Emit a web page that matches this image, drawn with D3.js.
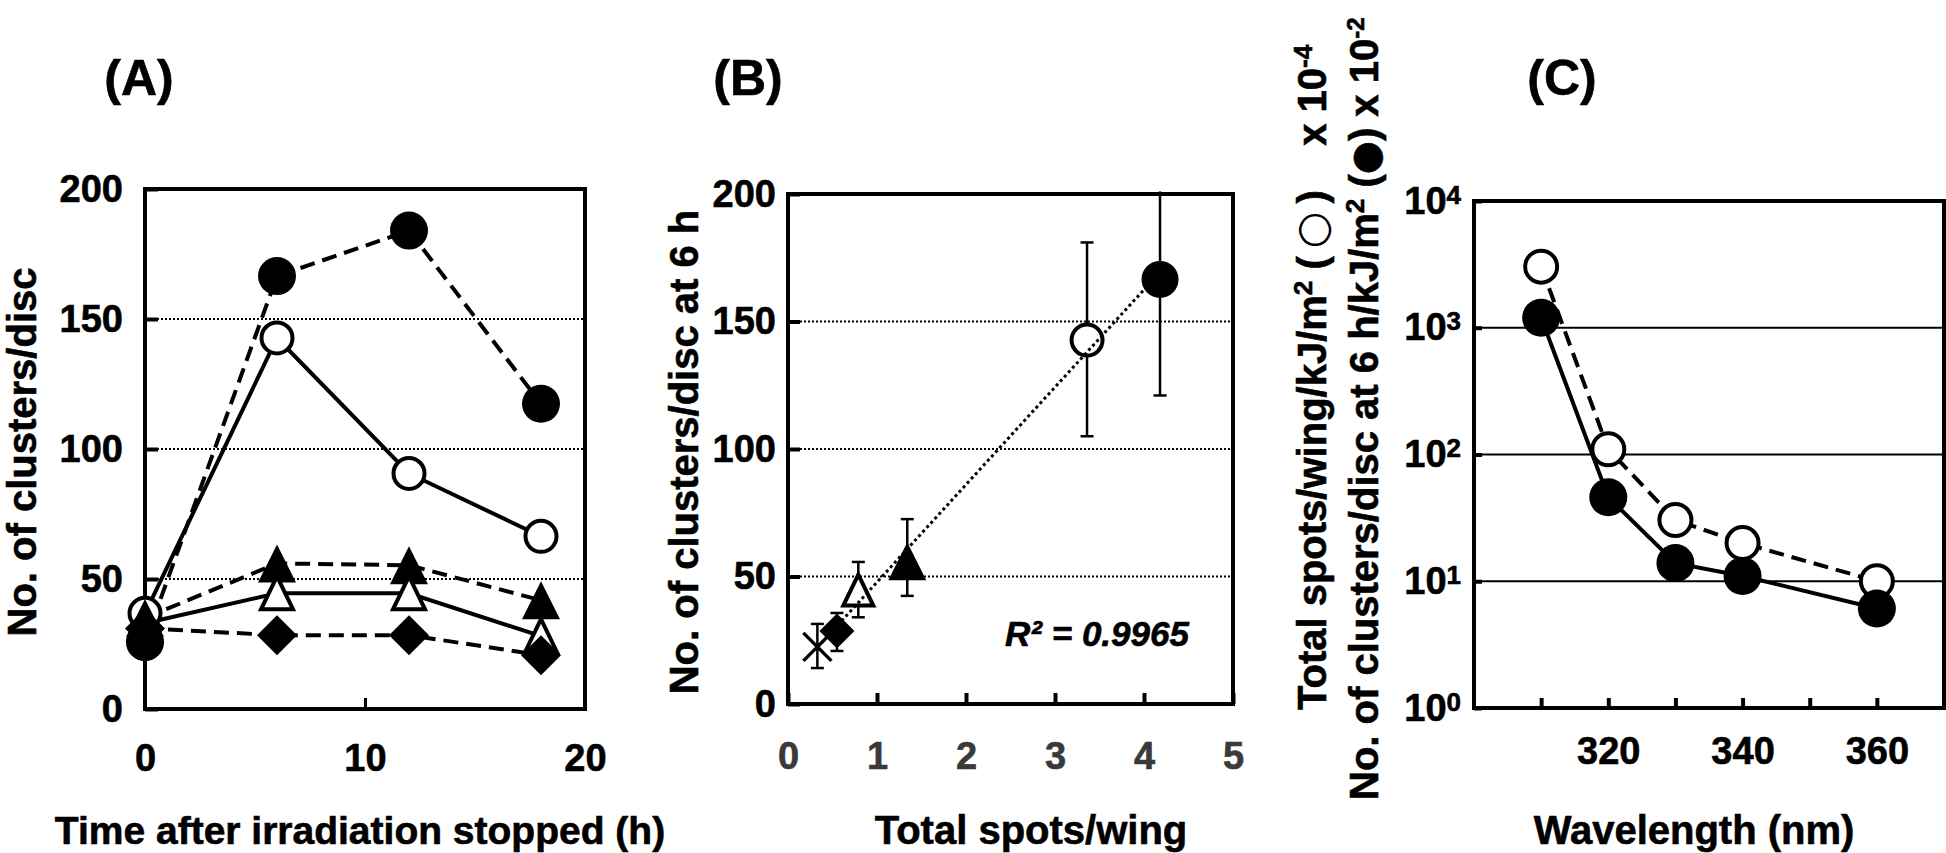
<!DOCTYPE html>
<html><head><meta charset="utf-8">
<script src="https://cdn.jsdelivr.net/npm/d3@7"></script>
<style>
body{margin:0;background:#fff}
svg{display:block}
text{font-family:"Liberation Sans",Arial,sans-serif;font-weight:bold;fill:#000;stroke:#000;stroke-width:0.6px}
</style>
</head><body>
<svg id="c" width="1946" height="853"></svg>
<script>
// ---------- Panel A data ----------
const timesA = [0, 6, 12, 18];
const filledCircleA = [25.7, 166.5, 184, 117.4];
const openCircleA = [36.8, 142.7, 90.6, 66.4];
const filledTriangleA = [35, 56, 55.3, 41.8];
const openTriangleA = [33, 44.5, 44.5, 28];
const filledDiamondA = [31, 28.4, 28.4, 20.7];
const yTicksA = [0, 50, 100, 150, 200];
const xTicksA = [0, 10, 20];
const gridA = [50, 100, 150];

// ---------- Panel B data ----------
const markersB = ["cross", "diamond", "openTriangle", "filledTriangle", "openCircle", "filledCircle"];
const spotsB = [0.33, 0.55, 0.79, 1.34, 3.36, 4.18];
const clustersB = [22.4, 28.6, 44.5, 56, 142.7, 166.5];
const errHighB = [31.4, 35.7, 55.7, 72.5, 181, 201];
const errLowB = [14.1, 20.8, 34, 42.4, 105, 121];
const yTicksB = [0, 50, 100, 150, 200];
const xTicksB = [0, 1, 2, 3, 4, 5];
const gridB = [50, 100, 150];
const r2Label = "R\u00b2 = 0.9965";

// ---------- Panel C data ----------
const wavelengthC = [310, 320, 330, 340, 360];
const spotsPerDoseC = [3035, 110, 30.4, 20, 10];      // open circles (x10^-4)
const clustersPerDoseC = [1200, 46, 13.9, 11, 6.1];   // filled circles (x10^-2)
const yTicksC = [1, 10, 100, 1000, 10000];
const xTicksC = [310, 320, 330, 340, 350, 360];
const xLabelsC = [320, 340, 360];
const gridC = [10, 100, 1000];

const svg = d3.select("#c");
const FONT = 38;

function marker(g, type, x, y, s) {
  const h = s / 2;
  if (type === "filledCircle") {
    g.append("circle").attr("cx", x).attr("cy", y).attr("r", h).attr("fill", "#000");
  } else if (type === "openCircle") {
    g.append("circle").attr("cx", x).attr("cy", y).attr("r", h - 2)
      .attr("fill", "#fff").attr("stroke", "#000").attr("stroke-width", 4);
  } else if (type === "filledTriangle") {
    g.append("path").attr("d", `M${x},${y - h}L${x + h},${y + h}L${x - h},${y + h}Z`).attr("fill", "#000");
  } else if (type === "openTriangle") {
    const k = h - 3;
    g.append("path").attr("d", `M${x},${y - k - 1}L${x + k},${y + k}L${x - k},${y + k}Z`)
      .attr("fill", "#fff").attr("stroke", "#000").attr("stroke-width", 4);
  } else if (type === "diamond") {
    g.append("path").attr("d", `M${x},${y - h}L${x + h},${y}L${x},${y + h}L${x - h},${y}Z`).attr("fill", "#000");
  } else if (type === "cross") {
    g.append("path").attr("d", `M${x - h},${y - h}L${x + h},${y + h}M${x + h},${y - h}L${x - h},${y + h}`)
      .attr("stroke", "#000").attr("stroke-width", 3.5).attr("fill", "none");
  }
}

function styleAxis(g, size, color) {
  g.attr("font-family", null).attr("font-size", null);
  g.select(".domain").remove();
  g.selectAll("text").attr("font-size", size).style("fill", color || "#000").style("stroke", color || "#000");
}

function frame(x0, x1, y0, y1) {
  svg.append("rect").attr("x", x0).attr("y", y0).attr("width", x1 - x0).attr("height", y1 - y0)
    .attr("fill", "none").attr("stroke", "#000").attr("stroke-width", 4);
}

// ================= Panel A =================
{
  const x = d3.scaleLinear().domain([0, 20]).range([145, 585]);
  const y = d3.scaleLinear().domain([0, 200]).range([709, 189]);
  svg.append("g").selectAll("line").data(gridA).join("line")
    .attr("x1", 145).attr("x2", 585).attr("y1", d => y(d)).attr("y2", d => y(d))
    .attr("stroke", "#000").attr("stroke-width", 2).attr("stroke-dasharray", "2,2");
  const gy = svg.append("g").attr("transform", "translate(145,0)")
    .call(d3.axisLeft(y).tickValues(yTicksA).tickFormat(d3.format("d")).tickSizeInner(-13).tickSizeOuter(0).tickPadding(22));
  styleAxis(gy, FONT); gy.selectAll("line").attr("stroke-width", 4);
  const gx = svg.append("g").attr("transform", "translate(0,709)")
    .call(d3.axisBottom(x).tickValues(xTicksA).tickFormat(d3.format("d")).tickSizeInner(-11).tickSizeOuter(0).tickPadding(35));
  styleAxis(gx, FONT); gx.selectAll("line").attr("stroke-width", 3);
  frame(145, 585, 189, 709);

  const series = [
    { v: openCircleA, dash: null, m: "openCircle", s: 35 },
    { v: filledTriangleA, dash: "15,8", m: "filledTriangle", s: 38 },
    { v: openTriangleA, dash: null, m: "openTriangle", s: 38 },
    { v: filledDiamondA, dash: "15,8", m: "diamond", s: 40 },
    { v: filledCircleA, dash: "15,8", m: "filledCircle", s: 38 }
  ];
  const line = d3.line().x((d, i) => x(timesA[i])).y(d => y(d));
  const gl = svg.append("g");
  series.forEach(sr => {
    gl.append("path").attr("d", line(sr.v)).attr("fill", "none").attr("stroke", "#000")
      .attr("stroke-width", 4).attr("stroke-dasharray", sr.dash);
  });
  const gm = svg.append("g");
  series.forEach(sr => sr.v.forEach((d, i) => marker(gm, sr.m, x(timesA[i]), y(d), sr.s)));

  svg.append("text").attr("x", 360).attr("y", 844).attr("text-anchor", "middle").attr("font-size", 39)
    .text("Time after irradiation stopped (h)");
  svg.append("text").attr("transform", "translate(36,452) rotate(-90)").attr("text-anchor", "middle")
    .attr("font-size", 40).text("No. of clusters/disc");
  svg.append("text").attr("x", 139).attr("y", 95).attr("text-anchor", "middle").attr("font-size", 50).text("(A)");
}

// ================= Panel B =================
{
  const x = d3.scaleLinear().domain([0, 5]).range([788, 1233]);
  const y = d3.scaleLinear().domain([0, 200]).range([704, 194]);
  svg.append("g").selectAll("line").data(gridB).join("line")
    .attr("x1", 788).attr("x2", 1233).attr("y1", d => y(d)).attr("y2", d => y(d))
    .attr("stroke", "#000").attr("stroke-width", 2).attr("stroke-dasharray", "2,2");
  const gy = svg.append("g").attr("transform", "translate(788,0)")
    .call(d3.axisLeft(y).tickValues(yTicksB).tickFormat(d3.format("d")).tickSizeInner(-12).tickSizeOuter(0).tickPadding(12));
  styleAxis(gy, FONT); gy.selectAll("line").attr("stroke-width", 4);
  const gx = svg.append("g").attr("transform", "translate(0,704)")
    .call(d3.axisBottom(x).tickValues(xTicksB).tickFormat(d3.format("d")).tickSizeInner(-11).tickSizeOuter(0).tickPadding(38));
  styleAxis(gx, FONT, "#3a3a3a"); gx.selectAll("line").attr("stroke-width", 4);
  frame(788, 1233, 194, 704);

  const ge = svg.append("g").attr("stroke", "#000").attr("stroke-width", 2.5);
  spotsB.forEach((sx, i) => {
    const px = x(sx);
    ge.append("line").attr("x1", px).attr("x2", px).attr("y1", y(errLowB[i])).attr("y2", y(errHighB[i]));
    ge.append("line").attr("x1", px - 6.5).attr("x2", px + 6.5).attr("y1", y(errLowB[i])).attr("y2", y(errLowB[i]));
    if (errHighB[i] < 200)
      ge.append("line").attr("x1", px - 6.5).attr("x2", px + 6.5).attr("y1", y(errHighB[i])).attr("y2", y(errHighB[i]));
  });
  const sizesB = { cross: 28, diamond: 35, openTriangle: 36, filledTriangle: 38, openCircle: 35, filledCircle: 37 };
  const gm = svg.append("g");
  markersB.forEach((m, i) => marker(gm, m, x(spotsB[i]), y(clustersB[i]), sizesB[m]));

  const mx = d3.mean(spotsB), my = d3.mean(clustersB);
  const slope = d3.sum(spotsB, (v, i) => (v - mx) * (clustersB[i] - my)) / d3.sum(spotsB, v => (v - mx) ** 2);
  const icpt = my - slope * mx;
  const x0 = d3.min(spotsB), x1 = d3.max(spotsB);
  svg.append("line").attr("x1", x(x0)).attr("y1", y(icpt + slope * x0)).attr("x2", x(x1)).attr("y2", y(icpt + slope * x1))
    .attr("stroke", "#000").attr("stroke-width", 3).attr("stroke-dasharray", "3,3");

  svg.append("text").attr("x", 1097).attr("y", 646).attr("text-anchor", "middle").attr("font-size", 35)
    .attr("font-style", "italic").text(r2Label);
  svg.append("text").attr("x", 1031).attr("y", 844).attr("text-anchor", "middle").attr("font-size", 40)
    .text("Total spots/wing");
  svg.append("text").attr("transform", "translate(698,452) rotate(-90)").attr("text-anchor", "middle")
    .attr("font-size", 40).text("No. of clusters/disc at 6 h");
  svg.append("text").attr("x", 748).attr("y", 95).attr("text-anchor", "middle").attr("font-size", 50).text("(B)");
}

// ================= Panel C =================
{
  const x = d3.scaleLinear().domain([300, 370]).range([1474, 1944]);
  const y = d3.scaleLog().domain([1, 10000]).range([708, 201]);
  svg.append("g").selectAll("line").data(gridC).join("line")
    .attr("x1", 1474).attr("x2", 1944).attr("y1", d => y(d)).attr("y2", d => y(d))
    .attr("stroke", "#000").attr("stroke-width", 2);
  const gy = svg.append("g").attr("transform", "translate(1474,0)")
    .call(d3.axisLeft(y).tickValues(yTicksC).tickFormat(() => "").tickSizeInner(-8).tickSizeOuter(0).tickPadding(13));
  styleAxis(gy, FONT); gy.selectAll("line").attr("stroke-width", 4);
  gy.selectAll(".tick text").each(function (d) {
    const t = d3.select(this);
    t.append("tspan").text("10");
    t.append("tspan").attr("dy", -10).attr("font-size", 26).text(Math.round(Math.log10(d)));
  });
  const gx = svg.append("g").attr("transform", "translate(0,708)")
    .call(d3.axisBottom(x).tickValues(xTicksC).tickFormat(d => xLabelsC.includes(d) ? d : "")
      .tickSizeInner(-10).tickSizeOuter(0).tickPadding(29));
  styleAxis(gx, FONT); gx.selectAll("line").attr("stroke-width", 4);
  frame(1474, 1944, 201, 708);

  const line = d3.line().x((d, i) => x(wavelengthC[i])).y(d => y(d));
  svg.append("path").attr("d", line(clustersPerDoseC)).attr("fill", "none").attr("stroke", "#000").attr("stroke-width", 4);
  svg.append("path").attr("d", line(spotsPerDoseC)).attr("fill", "none").attr("stroke", "#000").attr("stroke-width", 4)
    .attr("stroke-dasharray", "15,8");
  const gm = svg.append("g");
  spotsPerDoseC.forEach((d, i) => marker(gm, "openCircle", x(wavelengthC[i]), y(d), 36));
  clustersPerDoseC.forEach((d, i) => marker(gm, "filledCircle", x(wavelengthC[i]), y(d), 38));

  svg.append("text").attr("x", 1694).attr("y", 844).attr("text-anchor", "middle").attr("font-size", 40)
    .text("Wavelength (nm)");
  svg.append("text").attr("x", 1562).attr("y", 95).attr("text-anchor", "middle").attr("font-size", 50).text("(C)");

  const t1 = svg.append("text").attr("transform", "translate(1326,710) rotate(-90)").attr("font-size", 40);
  t1.append("tspan").text("Total spots/wing/kJ/m");
  t1.append("tspan").attr("dy", -14).attr("font-size", 26).text("2");
  t1.append("tspan").attr("dy", 14).text("\u00a0(\u2009");
  t1.append("tspan").attr("font-family", "DejaVu Sans").attr("font-weight", "normal").style("stroke-width", "0").attr("font-size", 42).text("\u25cb");
  t1.append("tspan").text("\u2009)\u00a0\u00a0\u00a0\u00a0x 10");
  t1.append("tspan").attr("dy", -14).attr("font-size", 26).text("-4");

  const t2 = svg.append("text").attr("transform", "translate(1378,800) rotate(-90)").attr("font-size", 40);
  t2.append("tspan").text("No. of clusters/disc at 6 h/kJ/m");
  t2.append("tspan").attr("dy", -14).attr("font-size", 26).text("2");
  t2.append("tspan").attr("dy", 14).text("\u00a0(");
  t2.append("tspan").attr("font-family", "DejaVu Sans").attr("font-weight", "normal").attr("font-size", 38).text("\u25cf");
  t2.append("tspan").text(")\u00a0x 10");
  t2.append("tspan").attr("dy", -14).attr("font-size", 24).text("-2");
}
</script>
</body></html>
